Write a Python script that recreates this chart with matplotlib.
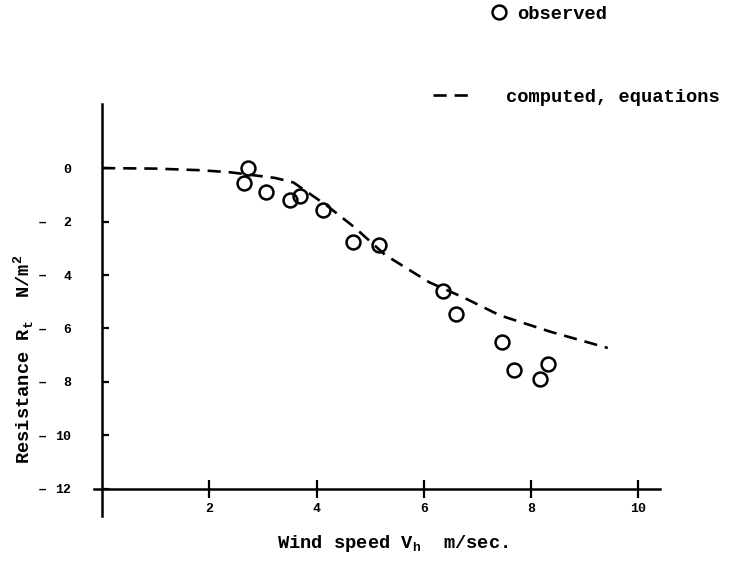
"""Wind resistance vs wind speed: observed points and computed curve."""

import matplotlib

matplotlib.use("Agg")

import matplotlib.pyplot as plt

# observed resistance R_t (N/m^2) vs wind speed V_h (m/sec)
obs_speed = [2.72, 2.65, 3.05, 3.50, 3.70, 4.12, 4.68, 5.17, 6.36, 6.60, 7.45, 7.68, 8.31, 8.17]
obs_resist = [0.0, 0.56, 0.90, 1.18, 1.05, 1.55, 2.75, 2.87, 4.60, 5.45, 6.51, 7.55, 7.32, 7.89]

# computed curve from the equations
calc_speed = [0.0, 1.0, 1.84, 2.40, 3.23, 3.57, 4.19, 4.71, 5.28, 6.10, 6.74, 7.42, 8.36, 9.43]
calc_resist = [0.0, 0.02, 0.08, 0.16, 0.37, 0.54, 1.40, 2.22, 3.25, 4.27, 4.84, 5.51, 6.12, 6.73]

x_ticks = [2, 4, 6, 8, 10]
y_ticks = [0, 2, 4, 6, 8, 10, 12]

plt.rcParams["font.family"] = ["Liberation Mono", "DejaVu Sans Mono"]
plt.rcParams["font.weight"] = "bold"

fig = plt.figure(figsize=(7.29, 5.71), dpi=100)
# origin of the data frame sits near pixel (102, 489)
ax = fig.add_axes([0.129, 0.097, 0.776, 0.721])

(curve,) = ax.plot(calc_speed, calc_resist, color="black", linewidth=1.9,
                   linestyle=(0, (5, 3)))
(points,) = ax.plot(obs_speed, obs_resist, linestyle="none", marker="o", markersize=10,
                    markerfacecolor="none", markeredgecolor="black", markeredgewidth=1.8)

ax.set_xlim(-0.15, 10.4)
ax.set_ylim(13.0, -2.4)

for side in ("top", "right"):
    ax.spines[side].set_visible(False)
ax.spines["left"].set_position(("data", 0))
ax.spines["bottom"].set_position(("data", 12))
for side in ("left", "bottom"):
    ax.spines[side].set_linewidth(1.8)

ax.set_xticks(x_ticks)
ax.set_yticks(y_ticks)
ax.tick_params(axis="x", direction="inout", length=13, width=1.6, pad=4, labelsize=9.5)
ax.tick_params(axis="y", direction="in", length=5, width=1.6, pad=22, labelsize=9.5)

# stray dashes left of the y tick labels
for v in y_ticks[1:]:
    ax.text(-0.092, v, "\u2013", transform=ax.get_yaxis_transform(), ha="center",
            va="center", fontsize=11)

fig.text(0.538, 0.049, "Wind speed V$_\\mathregular{h}$  m/sec.", ha="center", va="center",
         fontsize=13.5)
fig.text(0.032, 0.370, "Resistance R$_\\mathregular{t}$  N/m$^\\mathregular{2}$",
         ha="center", va="center", rotation=90, fontsize=13.5)

leg1 = ax.legend([points], ["observed"], loc="center left",
                 bbox_to_anchor=(491 / 729, 1 - 14 / 571), bbox_transform=fig.transFigure,
                 frameon=False, fontsize=13.5, handlelength=0.8, handletextpad=0.6,
                 borderpad=0, borderaxespad=0)
ax.add_artist(leg1)
ax.legend([curve], ["computed, equations"], loc="center left",
          bbox_to_anchor=(433 / 729, 1 - 97 / 571), bbox_transform=fig.transFigure,
          frameon=False, fontsize=13.5, handlelength=2.0, handletextpad=1.9,
          borderpad=0, borderaxespad=0)

fig.savefig("out.png", dpi=100)
